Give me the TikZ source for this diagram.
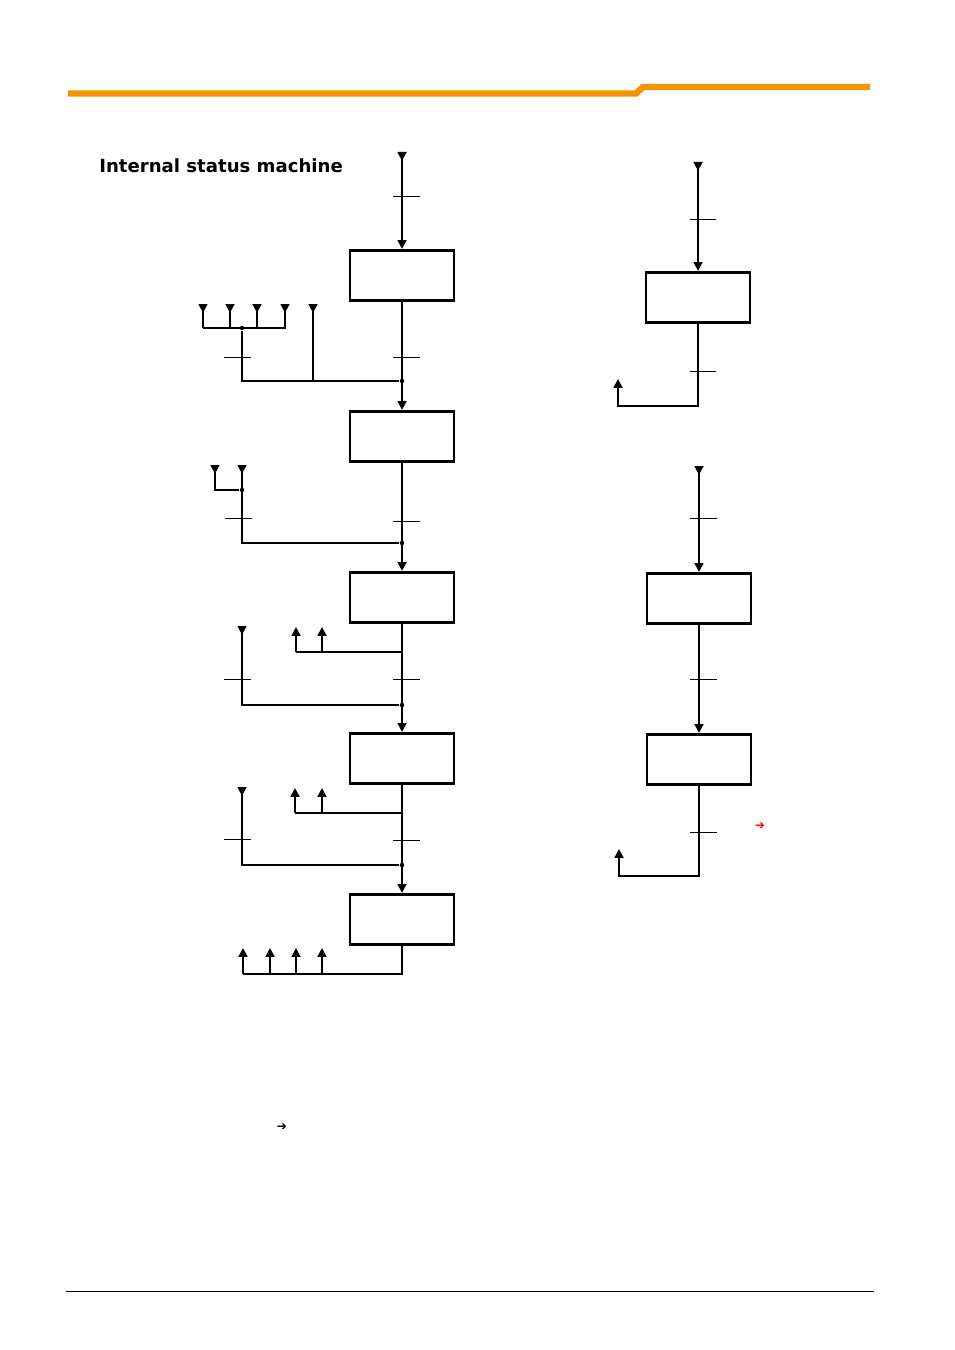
\documentclass[tikz,border=0pt]{standalone}
\usepackage{fontspec}
\setmainfont{DejaVu Sans}
\usepackage{tikz}
\usetikzlibrary{arrows.meta,positioning,calc}
\definecolor{headorange}{RGB}{243,148,0}
\definecolor{arrowred}{RGB}{255,0,0}

\begin{document}
\begin{tikzpicture}[x=0.624pt,y=-0.624pt,
    box/.style={rectangle,draw,line width=1.7pt,minimum width=65pt,minimum height=31.5pt,inner sep=0pt},
    wire/.style={line width=1.35pt},
    thickwire/.style={line width=1.75pt},
    flow/.style={wire,-{Triangle[length=5.5pt,width=5.5pt]}},
    feed/.style={wire,{Triangle[reversed,length=5.5pt,width=5.5pt]}-},
    thickfeed/.style={thickwire,{Triangle[reversed,length=5.5pt,width=5.5pt]}-},
    through/.style={wire,{Triangle[reversed,length=5.5pt,width=5.5pt]}-{Triangle[length=5.5pt,width=5.5pt]}},
    tick/.style={line width=0.55pt},
    dot/.style={circle,fill,inner sep=0pt,minimum size=2.8pt}]

    \useasboundingbox (0,0) rectangle (954,1350);

    % Page header and footer
    \draw[headorange,line width=4pt] (68,93.5) -- (636,93.5) -- (643,87) -- (870,87);
    \draw[line width=0.6pt] (66,1291) -- (874,1291);

    % Title
    \node[anchor=base west,font=\fontsize{11.3}{14}\selectfont\bfseries,inner sep=0pt] (title) at (99,172.5) {Internal status machine};

    % Left chain of states
    \node[box] (s1) at (402,275.5) {};
    \node[box] (s2) at (402,436.5) {};
    \node[box] (s3) at (402,597.5) {};
    \node[box] (s4) at (402,758.5) {};
    \node[box] (s5) at (402,919.5) {};

    % Right chains of states
    \node[box] (r1) at (698,297.5) {};
    \node[box] (r2) at (699,598.5) {};
    \node[box] (r3) at (699,759.5) {};

    % Entry into s1
    \coordinate (in1) at (402,152);
    \draw[through] (in1) -- (s1.north);
    \draw[tick] (393,196) -- (420,196);

    % s1 -> s2 with joining branches
    \draw[flow] (s1.south) -- (s2.north);
    \draw[tick] (393,357) -- (420,357);
    \node[dot] (j1) at (402,381) {};
    \coordinate (k1) at (242,381);
    \node[dot] (g1) at (242,328) {};
    \draw[wire] (j1) -- (k1) -- (g1);
    \draw[tick] (224,357) -- (251,357);
    \coordinate (a1) at (203,304);
    \coordinate (a2) at (230,304);
    \coordinate (a3) at (257,304);
    \coordinate (a4) at (285,304);
    \coordinate (a5) at (313,304);
    \draw[wire] (203,328) -- (286,328);
    \draw[feed] (a1) -- (a1 |- g1);
    \draw[feed] (a2) -- (a2 |- g1);
    \draw[thickfeed] (a3) -- (a3 |- g1);
    \draw[feed] (a4) -- (a4 |- g1);
    \draw[thickfeed] (a5) -- (a5 |- j1);

    % s2 -> s3
    \draw[flow] (s2.south) -- (s3.north);
    \draw[tick] (393,521) -- (420,521);
    \node[dot] (j2) at (402,543) {};
    \coordinate (b1) at (215,465);
    \coordinate (b2) at (242,465);
    \node[dot] (g2) at (242,490) {};
    \draw[feed] (b2) -- (b2 |- j2) -- (j2);
    \draw[feed] (b1) -- (b1 |- g2) -- (g2);
    \draw[tick] (225,518) -- (252,518);

    % s3 -> s4
    \draw[flow] (s3.south) -- (s4.north);
    \draw[tick] (393,679) -- (420,679);
    \coordinate (o3) at (402,652);
    \coordinate (c1) at (296,627);
    \coordinate (c2) at (322,627);
    \draw[wire] (o3) -- (c1 |- o3);
    \draw[flow] (c1 |- o3) -- (c1);
    \draw[flow] (c2 |- o3) -- (c2);
    \node[dot] (j3) at (402,705) {};
    \coordinate (b3) at (242,626);
    \draw[feed] (b3) -- (b3 |- j3) -- (j3);
    \draw[tick] (224,679) -- (251,679);

    % s4 -> s5
    \draw[flow] (s4.south) -- (s5.north);
    \draw[tick] (393,840) -- (420,840);
    \coordinate (o4) at (402,813);
    \coordinate (d1) at (295,788);
    \coordinate (d2) at (322,788);
    \draw[wire] (o4) -- (d1 |- o4);
    \draw[flow] (d1 |- o4) -- (d1);
    \draw[flow] (d2 |- o4) -- (d2);
    \node[dot] (j4) at (402,865) {};
    \coordinate (b4) at (242,787);
    \draw[feed] (b4) -- (b4 |- j4) -- (j4);
    \draw[tick] (224,839) -- (251,839);

    % Outputs of s5
    \coordinate (o5) at (402,974);
    \coordinate (e1) at (243,948);
    \coordinate (e2) at (270,948);
    \coordinate (e3) at (296,948);
    \coordinate (e4) at (322,948);
    \draw[wire] (s5.south) -- (o5) -- (e1 |- o5);
    \draw[flow] (e1 |- o5) -- (e1);
    \draw[thickwire,-{Triangle[length=5.5pt,width=5.5pt]}] (e2 |- o5) -- (e2);
    \draw[flow] (e3 |- o5) -- (e3);
    \draw[flow] (e4 |- o5) -- (e4);

    % Right: single state r1
    \coordinate (in2) at (698,162);
    \draw[through] (in2) -- (r1.north);
    \draw[tick] (690,219) -- (716,219);
    \coordinate (q1) at (698,406);
    \coordinate (x1) at (618,379);
    \draw[flow] (r1.south) -- (q1) -- (x1 |- q1) -- (x1);
    \draw[tick] (690,371) -- (716,371);

    % Right: r2 -> r3
    \coordinate (in3) at (699,466);
    \draw[through] (in3) -- (r2.north);
    \draw[tick] (690,518) -- (717,518);
    \draw[flow] (r2.south) -- (r3.north);
    \draw[tick] (690,679) -- (717,679);
    \coordinate (q2) at (699,876);
    \coordinate (x2) at (619,849);
    \draw[flow] (r3.south) -- (q2) -- (x2 |- q2) -- (x2);
    \draw[tick] (690,832) -- (717,832);

    % Small arrow marks
    \node[text=arrowred,font=\fontsize{7.5}{8}\selectfont,inner sep=0pt] (m1) at (760,826) {➔};
    \node[font=\fontsize{7.5}{8}\selectfont,inner sep=0pt] (m2) at (282,1127) {➔};
\end{tikzpicture}
\end{document}
